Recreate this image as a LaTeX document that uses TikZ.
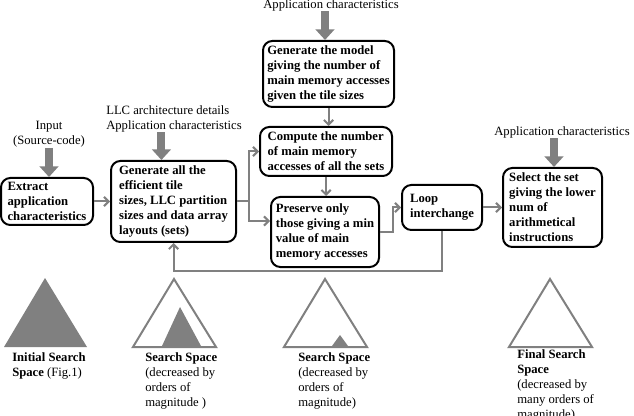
\documentclass[tikz,border=0pt]{standalone}
\usepackage{fontspec}
\setmainfont{Liberation Serif}
\usetikzlibrary{arrows.meta}
\begin{document}
\begin{tikzpicture}[x=0.75pt,y=-0.75pt,
  font=\fontsize{9.5pt}{11.25pt}\selectfont,
  box/.style={draw=black, line width=1.5pt, rounded corners=7pt, align=left,
    font=\fontsize{9.5pt}{11.25pt}\selectfont\bfseries, inner sep=2pt},
  lbl/.style={inner sep=0pt, align=center},
  captext/.style={inner sep=0pt, align=left, anchor=north west},
  bigarrow/.style={draw=gray, line width=6pt, -{Triangle[length=8pt,width=14pt]}},
  link/.style={draw=gray, line width=1.5pt, -{Straight Barb[length=3.5pt,width=7pt]}},
  tri/.style={draw=gray, line width=1.5pt, line join=miter},
  trifill/.style={fill=gray}
]
\useasboundingbox (0,0) rectangle (634,416);

% boxes
\node[box, minimum width=69pt, minimum height=35.25pt] (extract) at (47,201.5)
  {Extract\\application\\characteristics};
\node[box, minimum width=93.75pt, minimum height=60.75pt] (gen) at (173.5,201.5)
  {Generate all the\\efficient tile\\sizes, LLC partition\\sizes and data array\\layouts (sets)};
\node[box, minimum width=98.25pt, minimum height=49.5pt] (model) at (328.5,74)
  {Generate the model\\giving the number of\\main memory accesses\\given the tile sizes};
\node[box, minimum width=99pt, minimum height=36.75pt] (compute) at (326,151.5)
  {Compute the number\\of main memory\\accesses of all the sets};
\node[box, minimum width=81pt, minimum height=52.5pt] (preserve) at (325,232)
  {Preserve only\\those giving a min\\value of main\\memory accesses};
\node[box, minimum width=60pt, minimum height=33.75pt] (loop) at (442,207.5)
  {Loop\\interchange};
\node[box, minimum width=74.25pt, minimum height=59.25pt] (select) at (552.5,207.5)
  {Select the set\\giving the lower\\num of\\arithmetical\\instructions};

% labels
\node[lbl] (input) at (49,134.5) {Input\\(Source-code)};
\node[lbl, align=left, anchor=west] (llc) at (106,118.5)
  {LLC architecture details\\Application characteristics};
\node[lbl] (apptop) at (331,5) {Application characteristics};
\node[lbl] (appright) at (562,132) {Application characteristics};

% thick arrows
\draw[bigarrow] (input.south) -- (input.south |- extract.north);
\draw[bigarrow] ([xshift=-9.4pt]llc.south) -- ([xshift=-9.4pt]llc.south |- gen.north);
\draw[bigarrow] ([xshift=-4.5pt]apptop.south) -- ([xshift=-4.5pt]apptop.south |- model.north);
\draw[bigarrow] ([xshift=-6pt]appright.south) -- ([xshift=-6pt]appright.south |- select.north);

% thin connectors
\draw[link] (extract.east) -- (gen.west);
\draw[link] (gen.east) -- ++(12,0) |- (compute.west);
\draw[link] (gen.east) -- ++(12,0) |- ([yshift=8.25pt]preserve.west);
\draw[link] (model.south) -- (model.south |- compute.north);
\draw[link] (compute.south) -- (compute.south |- preserve.north);
\draw[link] (preserve.east) -- ++(13,0) |- (loop.west);
\draw[link] (loop.east) -- (select.west);
\draw[link] (loop.south) -- ++(0,40) -| (gen.south);

% triangles
\fill[trifill] (4,347) -- (45,278) -- (87,347) -- cycle;
\draw[tri] (133,347) -- (174,279) -- (216,347) -- cycle;
\fill[trifill] (162,346) -- (180,307) -- (201,346) -- cycle;
\draw[tri] (284,347) -- (325,279) -- (367,347) -- cycle;
\fill[trifill] (332,346) -- (340,335) -- (348,346) -- cycle;
\draw[tri] (509,347) -- (550,279) -- (592,347) -- cycle;

% captions
\node[captext] (c1) at (12,352) {\textbf{Initial Search}\\\textbf{Space} (Fig.1)};
\node[captext] (c2) at (145,352) {\textbf{Search Space}\\(decreased by\\orders of\\magnitude )};
\node[captext] (c3) at (298,352) {\textbf{Search Space}\\(decreased by\\orders of\\magnitude)};
\node[captext] (c4) at (517,349) {\textbf{Final Search}\\\textbf{Space}\\(decreased by\\many orders of\\magnitude)};
\end{tikzpicture}
\end{document}
